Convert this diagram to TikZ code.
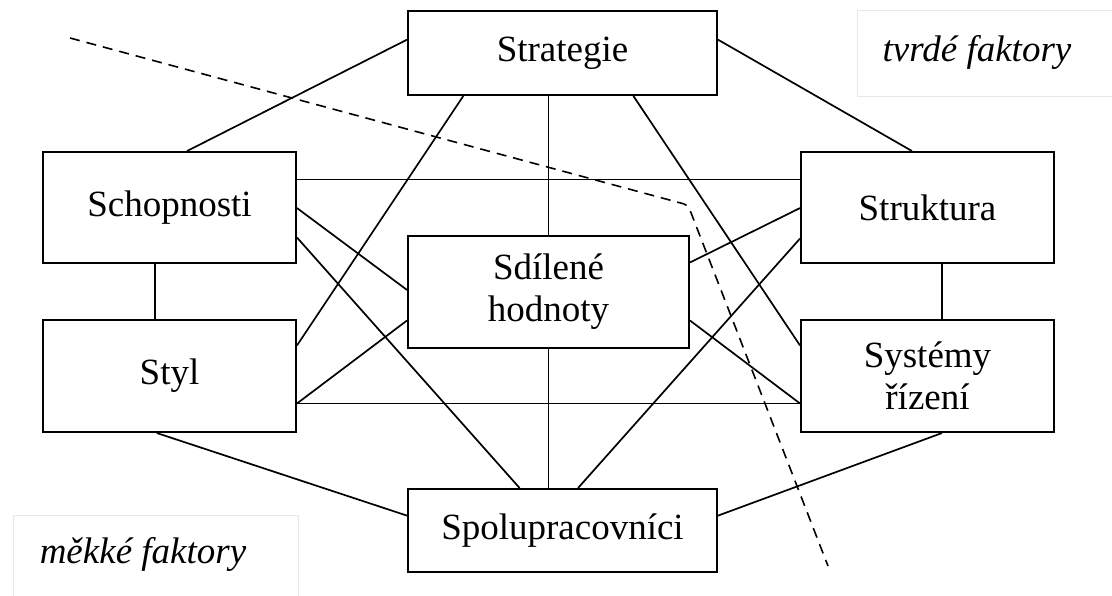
\documentclass[tikz,border=0pt]{standalone}
\usepackage{fontspec}
\setmainfont{Liberation Serif}
\usetikzlibrary{calc}

\tikzset{
  box/.style={draw, line width=2pt, rectangle, inner sep=0pt, align=center,
              font=\fontsize{37}{42}\selectfont},
  link/.style={line width=1.7pt},
  divide/.style={line width=1.6pt, dash pattern=on 10pt off 7pt, rounded corners=5pt},
  faint/.style={draw=black!9, line width=0.8pt},
  label/.style={font=\fontsize{37}{42}\selectfont\itshape, inner sep=0pt}
}

\begin{document}
\begin{tikzpicture}[x=1pt, y=-1pt]
\useasboundingbox (0,0) rectangle (1112,596);
\fill[white] (0,0) rectangle (1112,596);

% soft / hard factor panels
\draw[faint] (1120,10) -- (857,10) -- (857,96) -- (1120,96);
\draw[faint] (13,620) -- (13,515) -- (298,515) -- (298,620);
\node[label] (hard) at (977,52) {tvrdé faktory};
\node[label] (soft) at (143,554) {měkké faktory};

% the seven elements
\node[box, minimum width=309pt, minimum height=84pt]  (strat)  at (562.5,53)  {Strategie};
\node[box, minimum width=253pt, minimum height=111pt] (schop)  at (169.5,207.5) {Schopnosti};
\node[box, minimum width=253pt, minimum height=112pt] (styl)   at (169.5,376) {Styl};
\node[box, minimum width=281pt, minimum height=112pt] (sdil)   at (548.5,292) {Sdílené\\hodnoty};
\node[box, minimum width=253pt, minimum height=111pt] (strukt) at (927.5,207.5) {Struktura};
\node[box, minimum width=253pt, minimum height=112pt] (syst)   at (927.5,376) {Systémy\\řízení};
\node[box, minimum width=309pt, minimum height=83pt]  (spolu)  at (562.5,530.5) {Spolupracovníci};

% connection points along the box edges
\coordinate (stW)  at ($(strat.north west)!0.345!(strat.south west)$);
\coordinate (stE)  at ($(strat.north east)!0.345!(strat.south east)$);
\coordinate (stS1) at ($(strat.south west)!0.181!(strat.south east)$);
\coordinate (stS3) at ($(strat.south west)!0.728!(strat.south east)$);

\coordinate (scN)  at ($(schop.north west)!0.569!(schop.north east)$);
\coordinate (scE1) at ($(schop.north east)!0.252!(schop.south east)$);
\coordinate (scE2) at ($(schop.north east)!0.505!(schop.south east)$);
\coordinate (scE3) at ($(schop.north east)!0.766!(schop.south east)$);
\coordinate (scS)  at ($(schop.south west)!0.443!(schop.south east)$);

\coordinate (syE1) at ($(styl.north east)!0.232!(styl.south east)$);
\coordinate (syE2) at ($(styl.north east)!0.741!(styl.south east)$);
\coordinate (syS)  at ($(styl.south west)!0.45!(styl.south east)$);

\coordinate (sdW1) at ($(sdil.north west)!0.482!(sdil.south west)$);
\coordinate (sdW2) at ($(sdil.north west)!0.75!(sdil.south west)$);
\coordinate (sdE1) at ($(sdil.north east)!0.241!(sdil.south east)$);
\coordinate (sdE2) at ($(sdil.north east)!0.75!(sdil.south east)$);

\coordinate (skN)  at ($(strukt.north west)!0.439!(strukt.north east)$);
\coordinate (skW2) at ($(strukt.north west)!0.505!(strukt.south west)$);
\coordinate (skW3) at ($(strukt.north west)!0.775!(strukt.south west)$);
\coordinate (skS)  at ($(strukt.south west)!0.557!(strukt.south east)$);

\coordinate (ssW1) at ($(syst.north west)!0.232!(syst.south west)$);
\coordinate (ssW2) at ($(syst.north west)!0.741!(syst.south west)$);
\coordinate (ssS)  at ($(syst.south west)!0.557!(syst.south east)$);

\coordinate (spN1) at ($(spolu.north west)!0.362!(spolu.north east)$);
\coordinate (spN3) at ($(spolu.north west)!0.55!(spolu.north east)$);
\coordinate (spW)  at ($(spolu.north west)!0.325!(spolu.south west)$);
\coordinate (spE)  at ($(spolu.north east)!0.325!(spolu.south east)$);

% connectors
\draw[link] (stW) -- (scN);
\draw[link] (stS1) -- (syE1);
\draw[link] (sdil.north) -- (sdil.north |- strat.south);
\draw[link] (stS3) -- (ssW1);
\draw[link] (stE) -- (skN);

\draw[link] (scE1) -- (scE1 -| strukt.west);
\draw[link] (scE2) -- (sdW1);
\draw[link] (scE3) -- (spN1);
\draw[link] (scS) -- (scS |- styl.north);

\draw[link] (syE2) -- (sdW2);
\draw[link] (syE2) -- (syE2 -| syst.west);
\draw[link] (syS) -- (spW);

\draw[link] (sdE1) -- (skW2);
\draw[link] (sdE2) -- (ssW2);
\draw[link] (sdil.south) -- (sdil.south |- spolu.north);

\draw[link] (skW3) -- (spN3);
\draw[link] (skS) -- (skS |- syst.north);
\draw[link] (ssS) -- (spE);

% boundary between soft and hard factors
\coordinate (d1) at (70,38);
\coordinate (d2) at (688,205);
\coordinate (d3) at (828,566);
\draw[divide] (d1) -- (d2) -- (d3);
\end{tikzpicture}
\end{document}
